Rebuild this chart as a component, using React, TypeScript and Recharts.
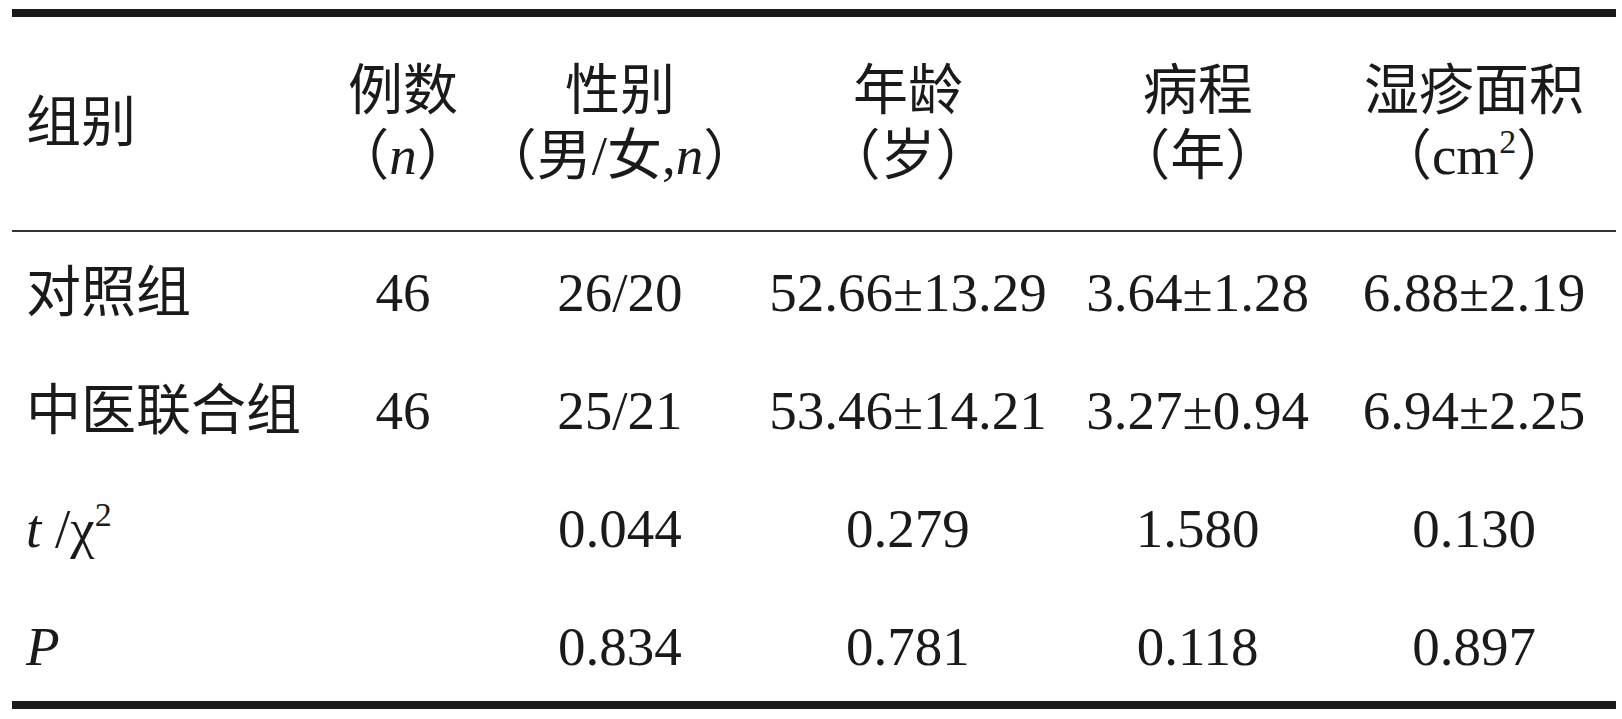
import { ScatterChart, Scatter, XAxis, YAxis, ReferenceLine } from 'recharts';

// 表头
const HEADER_TITLES = ['组别', '例数', '性别', '年龄', '病程', '湿疹面积'];
const HEADER_UNITS = ['', '（_n_）', '（男/女,_n_）', '（岁）', '（年）', '（cm^2）'];

// 表体（每列一个数组，按行排列）
const ROW_LABELS = ['对照组', '中医联合组', '_t_ /χ^2', '_P_'];
const CASES = ['46', '46', '', ''];
const GENDER = ['26/20', '25/21', '0.044', '0.834'];
const AGE = ['52.66±13.29', '53.46±14.21', '0.279', '0.781'];
const COURSE = ['3.64±1.28', '3.27±0.94', '1.580', '0.118'];
const AREA = ['6.88±2.19', '6.94±2.25', '0.130', '0.897'];

const COLUMNS = [ROW_LABELS, CASES, GENDER, AGE, COURSE, AREA];

// 版式：列锚点（占绘图区宽度的比例）、行位置（以行号为单位）
const COLUMN_X = [0.0087, 0.2438, 0.379, 0.5586, 0.7392, 0.9115];
const Y_DOMAIN: [number, number] = [-2.4746, 3.6186];
const HEADER_LINE1 = -1.712;
const HEADER_LINE2 = -1.16;
const HEADER_MID = -1.441;
const RULE_TOP = -2.364;
const RULE_MID = -0.517;
const RULE_BOTTOM = 3.5;

const INK = '#1a1a1a';
const FONT = "'Liberation Serif', 'Noto Sans CJK SC', serif";
const FONT_SIZE = 55;

type Cell = { x: number; y: number; text: string; anchor: 'start' | 'middle' };

const headerCells: Cell[] = HEADER_TITLES.flatMap((title, c) => {
  const anchor = c === 0 ? 'start' : 'middle';
  if (!HEADER_UNITS[c]) return [{ x: COLUMN_X[c], y: HEADER_MID, text: title, anchor }];
  return [
    { x: COLUMN_X[c], y: HEADER_LINE1, text: title, anchor },
    { x: COLUMN_X[c], y: HEADER_LINE2, text: HEADER_UNITS[c], anchor },
  ];
});

const bodyCells: Cell[] = COLUMNS.flatMap((col, c) =>
  col
    .map((text, r) => ({ x: COLUMN_X[c], y: r, text, anchor: (c === 0 ? 'start' : 'middle') as Cell['anchor'] }))
    .filter((d) => d.text !== ''),
);

// _x_ 表示斜体，^2 表示上标
function renderRich(text: string) {
  const parts = text.split(/(_[^_]+_|\^\d)/).filter(Boolean);
  let raised = false;
  return parts.map((p, i) => {
    if (p.startsWith('_') && p.endsWith('_')) {
      const dy = raised ? 21 : undefined;
      raised = false;
      return (
        <tspan key={i} fontStyle="italic" dy={dy}>
          {p.slice(1, -1)}
        </tspan>
      );
    }
    if (p.startsWith('^')) {
      raised = true;
      return (
        <tspan key={i} fontSize={34} dy={-21}>
          {p.slice(1)}
        </tspan>
      );
    }
    const dy = raised ? 21 : undefined;
    raised = false;
    return (
      <tspan key={i} dy={dy}>
        {p}
      </tspan>
    );
  });
}

function CellText(props: any) {
  const { cx, cy, payload } = props;
  if (cx == null || cy == null) return null;
  return (
    <text
      x={cx}
      y={cy + 19}
      textAnchor={payload.anchor}
      fontFamily={FONT}
      fontSize={FONT_SIZE}
      fill={INK}
    >
      {renderRich(payload.text)}
    </text>
  );
}

export default function App() {
  return (
    <div style={{ position: 'absolute', left: 0, top: 0, background: '#fff' }}>
      <ScatterChart width={1622} height={719} margin={{ top: 0, right: 6, bottom: 0, left: 12 }}>
        <XAxis type="number" dataKey="x" domain={[0, 1]} allowDataOverflow hide />
        <YAxis type="number" dataKey="y" domain={Y_DOMAIN} allowDataOverflow reversed hide />
        <ReferenceLine y={RULE_TOP} stroke={INK} strokeWidth={8} />
        <ReferenceLine y={RULE_MID} stroke="#333" strokeWidth={2} />
        <ReferenceLine y={RULE_BOTTOM} stroke={INK} strokeWidth={8} />
        <Scatter data={headerCells} shape={(p: any) => <CellText {...p} />} isAnimationActive={false} />
        <Scatter data={bodyCells} shape={(p: any) => <CellText {...p} />} isAnimationActive={false} />
      </ScatterChart>
    </div>
  );
}
